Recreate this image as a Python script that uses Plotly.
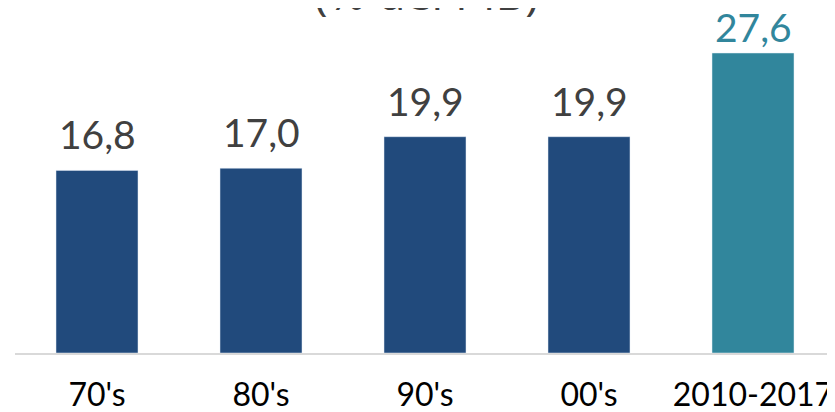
import plotly.graph_objects as go

categories = ["70's", "80's", "90's", "00's", "2010-2017"]
values = [16.8, 17.0, 19.9, 19.9, 27.6]
bar_colors = ["#214A7C", "#214A7C", "#214A7C", "#214A7C", "#31869C"]
label_colors = ["#404040", "#404040", "#404040", "#404040", "#31869C"]
label_shifts = [11, 11, 11, 11, 1]
labels = [f"{v:.1f}".replace(".", ",") for v in values]
subtitle = "(% del PIB)"

fig = go.Figure(go.Bar(x=categories, y=values, marker_color=bar_colors, width=0.5,
                       hoverinfo="skip"))

for c, v, t, col, sh in zip(categories, values, labels, label_colors, label_shifts):
    fig.add_annotation(x=c, y=v, text=t, showarrow=False, yanchor="bottom", yshift=sh,
                       font=dict(family="Lato", size=39, color=col))

fig.add_annotation(x=0.502, y=1, xref="paper", yref="paper", text=subtitle,
                   showarrow=False, yanchor="bottom", yshift=-17,
                   font=dict(family="Open Sans", size=46, color="#404040"))

fig.update_layout(
    width=827, height=404,
    margin=dict(l=7, r=0, t=0, b=59, autoexpand=False),
    plot_bgcolor="white", paper_bgcolor="white",
    showlegend=False,
    xaxis=dict(showline=True, linecolor="#D9D9D9", linewidth=2, ticks="",
               tickfont=dict(family="Lato", size=32, color="#000000"),
               ticklabelstandoff=13, automargin=False),
    yaxis=dict(range=[0, 31.74], visible=False, showgrid=False, automargin=False),
)

fig.write_html("out.html")
